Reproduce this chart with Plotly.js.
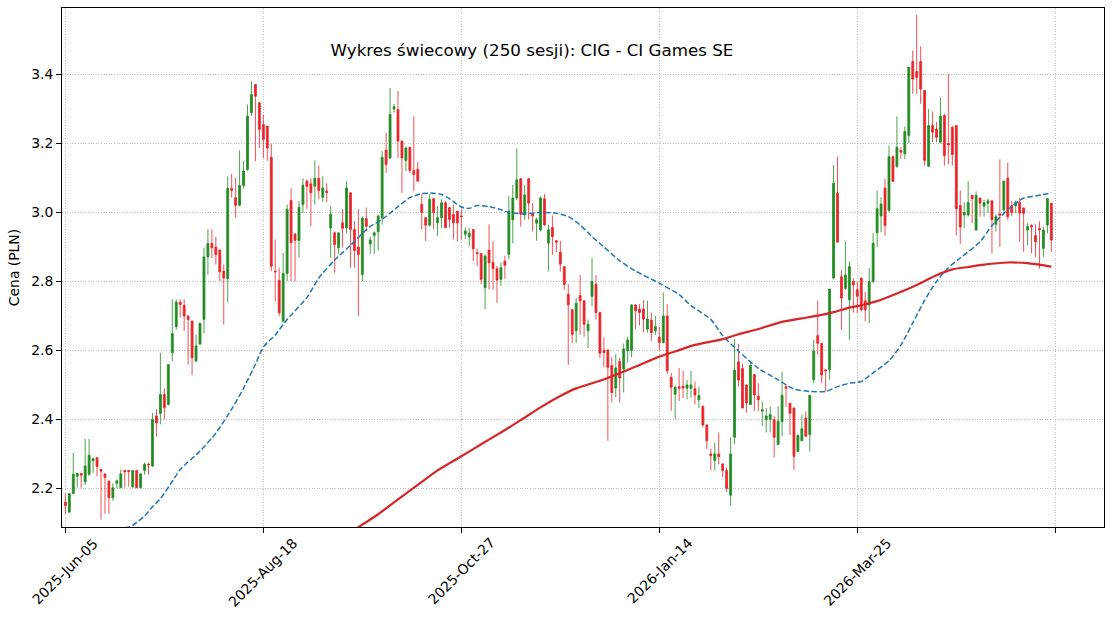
<!DOCTYPE html>
<html>
<head>
<meta charset="utf-8">
<script src="https://cdn.plot.ly/plotly-3.0.1.min.js"></script>
<style>html,body{margin:0;padding:0;background:#fff;}#chart{width:1112px;height:620px;}</style>
</head>
<body>
<div id="chart"></div>
<script>
var titleText = 'Wykres świecowy (250 sesji): CIG - CI Games SE';
var yAxisTitle = 'Cena (PLN)';
var tickVals = [0, 50, 100, 150, 200, 250];
var tickLabels = ['2025-Jun-05', '2025-Aug-18', '2025-Oct-27', '2026-Jan-14', '2026-Mar-25', ''];
var yTickVals = [2.2, 2.4, 2.6, 2.8, 3.0, 3.2, 3.4];

var openP = [
2.16,2.131,2.185,2.235,2.243,2.219,2.241,2.28,2.289,2.255,
2.242,2.221,2.173,2.215,2.202,2.252,2.252,2.205,2.252,2.202,
2.252,2.27,2.265,2.41,2.417,2.472,2.443,2.593,2.669,2.74,
2.731,2.7,2.685,2.569,2.619,2.69,2.871,2.91,2.9,2.891,
2.83,2.808,3.07,3.043,3.021,3.078,3.125,3.289,3.371,3.318,
3.255,3.25,3.16,2.83,2.803,2.685,2.823,3.035,2.938,2.919,
3.023,3.091,3.083,3.076,3.099,3.044,3.062,2.955,2.941,2.898,
2.97,2.956,3.057,2.951,2.9,2.82,2.982,2.909,2.933,2.944,
2.985,3.181,3.158,3.3,3.299,3.207,3.151,3.189,3.122,3.125,
3.024,2.985,2.963,3.04,2.97,2.985,3.028,3.014,2.994,3.004,
2.99,2.937,2.93,2.951,2.884,2.881,2.782,2.891,2.856,2.837,
2.806,2.859,2.879,2.979,3.042,3.098,2.993,3.098,2.995,2.969,
2.95,3.04,2.911,2.957,2.918,2.885,2.843,2.763,2.718,2.657,
2.759,2.744,2.657,2.757,2.792,2.71,2.6,2.601,2.556,2.491,
2.568,2.546,2.599,2.6,2.732,2.72,2.72,2.662,2.688,2.657,
2.638,2.623,2.7,2.522,2.473,2.495,2.496,2.49,2.49,2.489,
2.457,2.438,2.384,2.3,2.281,2.3,2.271,2.252,2.18,2.348,
2.567,2.548,2.5,2.443,2.53,2.467,2.424,2.4,2.4,2.4,
2.327,2.394,2.495,2.447,2.433,2.307,2.338,2.404,2.356,2.515,
2.643,2.621,2.544,2.544,2.81,3.056,2.814,2.78,2.747,2.8,
2.776,2.81,2.744,2.732,2.8,2.941,2.99,3.071,3.006,3.162,
3.134,3.18,3.17,3.223,3.438,3.409,3.438,3.354,3.134,3.252,
3.242,3.204,3.281,3.2,3.247,3.252,3.02,2.993,2.993,3.05,
2.949,3.042,3.018,3.027,3.034,2.966,2.996,3.008,3.1,3.02,
3.02,3.03,3.013,2.949,2.962,2.933,2.954,2.896,2.964,3.027];

var highP = [
2.185,2.187,2.303,2.245,2.245,2.344,2.344,2.29,2.29,2.256,
2.243,2.222,2.215,2.226,2.255,2.253,2.254,2.252,2.253,2.243,
2.275,2.275,2.419,2.43,2.593,2.49,2.56,2.748,2.748,2.748,
2.748,2.702,2.686,2.646,2.682,2.898,2.951,2.951,2.93,2.893,
2.849,3.105,3.112,3.1,3.18,3.15,3.313,3.381,3.372,3.32,
3.284,3.252,3.2,2.922,2.84,2.883,3.023,3.07,2.94,3.033,
3.099,3.096,3.099,3.151,3.137,3.105,3.085,3.019,2.945,2.942,
3.009,3.091,3.058,2.975,3.009,2.989,3.014,2.93,2.945,2.994,
3.178,3.231,3.361,3.315,3.352,3.208,3.192,3.19,3.279,3.147,
3.053,2.986,3.053,3.041,3.019,3.038,3.033,3.015,3.023,3.005,
3.009,2.956,2.956,2.952,2.895,2.882,2.879,2.966,2.917,2.845,
2.855,2.874,3.048,3.08,3.186,3.1,3.08,3.1,3.027,2.985,
3.047,3.053,2.965,2.991,2.92,2.918,2.845,2.792,2.72,2.752,
2.819,2.745,2.69,2.868,2.819,2.712,2.638,2.603,2.58,2.589,
2.578,2.62,2.64,2.734,2.734,2.734,2.746,2.744,2.71,2.7,
2.669,2.768,2.734,2.535,2.498,2.549,2.541,2.514,2.541,2.51,
2.495,2.44,2.386,2.314,2.333,2.362,2.273,2.26,2.348,2.633,
2.619,2.562,2.501,2.567,2.531,2.505,2.452,2.433,2.438,2.41,
2.438,2.539,2.5,2.448,2.434,2.356,2.414,2.423,2.47,2.631,
2.744,2.622,2.545,2.778,3.138,3.162,2.834,2.916,2.858,2.81,
2.8,2.811,2.77,2.839,2.941,3.064,3.044,3.098,3.194,3.165,
3.279,3.19,3.25,3.421,3.47,3.573,3.482,3.355,3.3,3.293,
3.262,3.334,3.286,3.402,3.252,3.253,3.064,3.03,3.091,3.051,
3.061,3.043,3.037,3.04,3.035,2.995,3.154,3.092,3.144,3.033,
3.035,3.042,3.015,2.969,2.967,2.966,2.974,2.959,3.042,3.028];

var lowP = [
2.125,2.13,2.183,2.202,2.202,2.21,2.236,2.245,2.235,2.109,
2.126,2.126,2.164,2.2,2.2,2.202,2.205,2.202,2.202,2.2,
2.24,2.24,2.262,2.35,2.386,2.4,2.44,2.569,2.66,2.695,
2.656,2.559,2.528,2.568,2.615,2.649,2.82,2.868,2.849,2.801,
2.675,2.74,3.043,2.985,3.018,3.07,3.12,3.28,3.149,3.187,
3.158,3.15,2.83,2.742,2.7,2.68,2.801,2.801,2.8,2.869,
2.998,3.009,2.96,3.023,3.038,3.03,3.03,2.869,2.825,2.88,
2.898,2.94,2.84,2.84,2.7,2.8,2.946,2.88,2.88,2.89,
2.965,3.115,3.156,3.29,3.158,3.057,3.12,3.115,3.062,3.088,
2.951,2.917,2.96,2.951,2.932,2.956,2.956,2.956,2.922,2.917,
2.922,2.922,2.903,2.859,2.845,2.792,2.719,2.777,2.777,2.738,
2.787,2.808,2.864,2.911,3.035,2.959,2.979,2.979,2.945,2.918,
2.945,2.962,2.829,2.877,2.886,2.829,2.776,2.558,2.621,2.621,
2.645,2.64,2.607,2.728,2.69,2.578,2.551,2.338,2.449,2.464,
2.449,2.478,2.565,2.58,2.662,2.672,2.652,2.652,2.628,2.645,
2.599,2.62,2.531,2.425,2.401,2.453,2.462,2.459,2.462,2.443,
2.433,2.378,2.314,2.252,2.252,2.27,2.233,2.19,2.15,2.329,
2.495,2.433,2.419,2.443,2.424,2.424,2.381,2.362,2.362,2.29,
2.326,2.351,2.437,2.355,2.254,2.305,2.337,2.35,2.307,2.505,
2.587,2.505,2.481,2.515,2.806,2.914,2.66,2.775,2.631,2.71,
2.708,2.713,2.684,2.679,2.795,2.9,2.943,2.933,3.0,3.09,
3.13,3.155,3.155,3.2,3.344,3.344,3.315,3.136,3.133,3.204,
3.204,3.2,3.136,3.14,3.136,2.933,2.909,2.955,2.988,2.969,
2.948,2.988,2.988,2.998,2.881,2.945,2.9,2.998,2.979,2.99,
2.998,2.915,2.886,2.905,2.881,2.871,2.837,2.871,2.94,2.886];

var closeP = [
2.15,2.185,2.241,2.243,2.238,2.265,2.296,2.286,2.263,2.25,
2.232,2.173,2.202,2.222,2.242,2.248,2.249,2.252,2.202,2.242,
2.27,2.268,2.4,2.39,2.472,2.434,2.559,2.649,2.74,2.733,
2.7,2.69,2.579,2.613,2.678,2.871,2.91,2.898,2.878,2.828,
2.81,3.07,3.064,3.021,3.078,3.12,3.279,3.342,3.337,3.241,
3.212,3.187,2.844,2.828,2.709,2.823,3.009,2.912,2.919,3.015,
3.079,3.076,3.057,3.099,3.064,3.071,3.058,2.995,2.907,2.941,
2.954,3.071,2.951,2.89,2.878,2.983,2.96,2.92,2.941,2.989,
3.16,3.139,3.284,3.307,3.207,3.158,3.187,3.122,3.11,3.091,
3.0,2.963,3.038,2.999,2.985,3.028,2.956,2.98,2.97,2.97,
2.988,2.946,2.94,2.895,2.881,2.806,2.874,2.854,2.837,2.804,
2.84,2.847,3.004,3.042,3.095,2.995,3.051,3.027,2.99,2.979,
3.042,2.964,2.95,2.93,2.914,2.85,2.792,2.732,2.647,2.737,
2.744,2.676,2.676,2.8,2.71,2.592,2.594,2.551,2.478,2.549,
2.52,2.604,2.63,2.732,2.715,2.71,2.691,2.691,2.652,2.669,
2.623,2.7,2.541,2.493,2.493,2.49,2.491,2.5,2.5,2.471,
2.469,2.384,2.338,2.295,2.3,2.292,2.252,2.2,2.3,2.543,
2.514,2.433,2.448,2.557,2.471,2.457,2.428,2.41,2.414,2.348,
2.395,2.47,2.49,2.418,2.293,2.354,2.373,2.351,2.47,2.599,
2.621,2.529,2.541,2.778,3.085,2.914,2.752,2.819,2.843,2.79,
2.757,2.718,2.718,2.8,2.911,3.011,3.025,2.962,3.162,3.09,
3.189,3.175,3.235,3.421,3.387,3.392,3.358,3.151,3.252,3.233,
3.218,3.279,3.165,3.196,3.168,3.011,2.958,3.0,3.029,3.04,
3.05,3.027,3.029,3.034,2.979,2.988,2.992,3.091,2.988,3.0,
3.03,2.998,2.998,2.959,2.958,2.915,2.95,2.949,3.04,2.92];

var maFastIdx = [15,17,20,22,24,27,29,34,38,42,45,48,50,53,56,61,64,68,72,77,80,84,87,90,93,95,97,100,102,104,107,110,112,116,120,124,127,130,133,136,140,144,150,155,158,163,166,170,175,180,184,188,192,195,198,201,204,208,211,214,217,220,223,226,231,234,238,242,245,249];
var maFastVal = [2.085,2.093,2.12,2.147,2.17,2.22,2.255,2.308,2.36,2.43,2.49,2.56,2.61,2.645,2.69,2.753,2.81,2.862,2.905,2.96,2.98,3.017,3.043,3.055,3.056,3.052,3.04,3.016,3.012,3.02,3.017,3.008,3.0,2.996,3.0,2.998,2.988,2.964,2.93,2.9,2.86,2.83,2.795,2.762,2.73,2.69,2.643,2.598,2.548,2.515,2.488,2.481,2.481,2.495,2.505,2.51,2.535,2.57,2.615,2.68,2.745,2.8,2.84,2.868,2.915,2.962,3.008,3.042,3.048,3.057];
var maSlowIdx = [73,79,84,89,94,100,105,110,115,120,125,129,135,140,145,150,155,159,166,170,175,181,186,190,194,198,201,205,210,215,220,224,228,232,238,243,249];
var maSlowVal = [2.08,2.125,2.168,2.21,2.252,2.293,2.328,2.362,2.398,2.435,2.468,2.49,2.512,2.534,2.558,2.582,2.601,2.616,2.633,2.647,2.662,2.683,2.693,2.701,2.711,2.724,2.731,2.743,2.765,2.79,2.818,2.835,2.842,2.849,2.855,2.853,2.843];

var sessionIdx = openP.map(function(_, i){ return i; });

var FONT = 'DejaVu Sans, Liberation Sans, sans-serif';

var traces = [
  {
    type: 'candlestick',
    x: sessionIdx, open: openP, high: highP, low: lowP, close: closeP,
    increasing: {line: {color: '#228B22', width: 0.8}, fillcolor: '#228B22'},
    decreasing: {line: {color: '#E8262A', width: 0.8}, fillcolor: '#E8262A'},
    whiskerwidth: 0,
    hoverinfo: 'skip',
    showlegend: false
  },
  {
    type: 'scatter', mode: 'lines',
    x: maFastIdx, y: maFastVal,
    line: {color: '#1f77b4', width: 1.5, dash: '5.5px,2.5px', shape: 'spline', smoothing: 0.6},
    hoverinfo: 'skip', showlegend: false
  },
  {
    type: 'scatter', mode: 'lines',
    x: maSlowIdx, y: maSlowVal,
    line: {color: '#d62728', width: 2.2, shape: 'spline', smoothing: 0.6},
    hoverinfo: 'skip', showlegend: false
  }
];

var annotations = [];
tickVals.forEach(function(v, k){
  if (tickLabels[k]) {
    annotations.push({
      x: v, xref: 'x', y: 0, yref: 'paper',
      xanchor: 'center', yanchor: 'top', yshift: -5,
      text: tickLabels[k], textangle: -45, showarrow: false,
      font: {family: FONT, size: 13.9, color: '#000'}
    });
  }
});

var gridStyle = {showgrid: true, gridcolor: '#b0b0b0', griddash: '1px,1.6px', gridwidth: 0.8};

var layout = {
  width: 1112, height: 620,
  margin: {l: 62, r: 8, t: 8, b: 93, pad: 0},
  paper_bgcolor: '#ffffff', plot_bgcolor: '#ffffff',
  font: {family: FONT, size: 13.9, color: '#000'},
  title: {
    text: titleText, xref: 'container', yref: 'container',
    x: 532/1112, xanchor: 'center', y: 1 - 50/620, yanchor: 'middle',
    font: {family: FONT, size: 16.7, color: '#000'}
  },
  boxgap: 0.3,
  xaxis: Object.assign({
    range: [-0.85, 262.3],
    tickmode: 'array', tickvals: tickVals, ticktext: tickLabels,
    showticklabels: false,
    ticks: 'outside', ticklen: 5, tickwidth: 1, tickcolor: '#000',
    showline: true, mirror: true, linecolor: '#000', linewidth: 1,
    zeroline: false,
    rangeslider: {visible: false},
    fixedrange: true
  }, gridStyle),
  yaxis: Object.assign({
    range: [2.088, 3.593],
    tickmode: 'array', tickvals: yTickVals, tickformat: '.1f',
    ticks: 'outside', ticklen: 5, tickwidth: 1, tickcolor: '#000',
    showline: true, mirror: true, linecolor: '#000', linewidth: 1,
    zeroline: false,
    title: {text: yAxisTitle, font: {family: FONT, size: 13.9, color: '#000'}, standoff: 8},
    fixedrange: true
  }, gridStyle),
  annotations: annotations
};

Plotly.newPlot('chart', traces, layout, {displayModeBar: false, staticPlot: true});
</script>
</body>
</html>
